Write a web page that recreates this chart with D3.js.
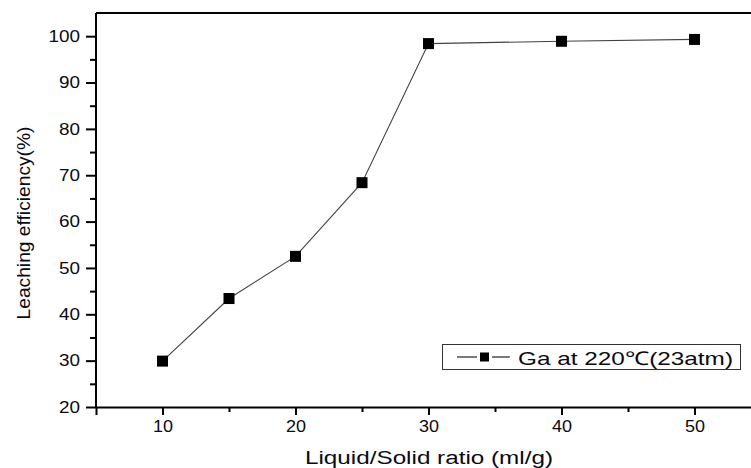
<!DOCTYPE html>
<html><head><meta charset="utf-8">
<script src="https://cdn.jsdelivr.net/npm/d3@7"></script>
<style>body{margin:0;background:#fff}svg{display:block;font-family:"Liberation Sans",Arial,sans-serif}</style>
</head><body><svg id="c" width="751" height="468"></svg>
<script>
const ratios = [10, 15, 20, 25, 30, 40, 50];
const efficiency = [29.9, 43.4, 52.5, 68.4, 98.4, 98.9, 99.3];
const xTicks = [10, 20, 30, 40, 50];
const xMinor = [15, 25, 35, 45];
const yTicks = [20, 30, 40, 50, 60, 70, 80, 90, 100];
const yMinor = [25, 35, 45, 55, 65, 75, 85, 95];
const seriesName = "Ga at 220\u2103(23atm)";
const xTitle = "Liquid/Solid ratio (ml/g)";
const yTitle = "Leaching efficiency(%)";

const svg = d3.select("#c");
const x = d3.scaleLinear().domain([5, 55]).range([96, 761]);
const y = d3.scaleLinear().domain([20, 105]).range([407, 13]);

// top frame
svg.append("line").attr("x1", 96).attr("x2", 751).attr("y1", y(105)).attr("y2", y(105))
  .attr("stroke", "#000").attr("stroke-width", 2);

// x axis
const gx = svg.append("g").attr("transform", `translate(0,${y(20)})`);
gx.call(d3.axisBottom(x).tickValues(xTicks).tickSize(8).tickPadding(6).tickFormat(d3.format("d")));
gx.append("g").call(d3.axisBottom(x).tickValues(xMinor).tickSize(5).tickFormat(""));
gx.selectAll(".domain").attr("stroke-width", 2);
gx.selectAll("g").selectAll(".domain").remove();
gx.selectAll("line").attr("stroke-width", 2);
gx.selectAll("text").attr("font-size", 16).attr("fill", "#0a0a14")
  .attr("textLength", d => String(d).length * 10).attr("lengthAdjust", "spacingAndGlyphs");

// y axis
const gy = svg.append("g").attr("transform", `translate(${x(5)},0)`);
gy.call(d3.axisLeft(y).tickValues(yTicks).tickSize(10).tickPadding(6).tickFormat(d3.format("d")));
gy.append("g").call(d3.axisLeft(y).tickValues(yMinor).tickSize(6).tickFormat(""));
gy.selectAll(".domain").attr("stroke-width", 2);
gy.selectAll("g").selectAll(".domain").remove();
gy.selectAll("line").attr("stroke-width", 2);
gy.selectAll("text").attr("font-size", 16).attr("fill", "#0a0a14")
  .attr("textLength", d => String(d).length * 10.5).attr("lengthAdjust", "spacingAndGlyphs");
gy.select(".domain").attr("d", `M0,${y(20)}V${y(105)}`);

// line
const line = d3.line().x((d, i) => x(ratios[i])).y(d => y(d));
svg.append("path").datum(efficiency).attr("d", line).attr("fill", "none")
  .attr("stroke", "#444").attr("stroke-width", 1.1);
svg.selectAll("rect.pt").data(efficiency).join("rect").attr("class", "pt")
  .attr("x", (d, i) => x(ratios[i]) - 5.5).attr("y", d => y(d) - 5.5)
  .attr("width", 11).attr("height", 11).attr("fill", "#000");

// legend
const lg = svg.append("g");
lg.append("rect").attr("x", 442.5).attr("y", 344.5).attr("width", 298).attr("height", 25)
  .attr("fill", "#fff").attr("stroke", "#333").attr("stroke-width", 1);
lg.append("line").attr("x1", 457).attr("x2", 477).attr("y1", 357).attr("y2", 357)
  .attr("stroke", "#222").attr("stroke-width", 1.2);
lg.append("line").attr("x1", 492).attr("x2", 510).attr("y1", 357).attr("y2", 357)
  .attr("stroke", "#222").attr("stroke-width", 1.2);
lg.append("rect").attr("x", 480).attr("y", 352.5).attr("width", 9).attr("height", 9).attr("fill", "#000");
lg.append("text").attr("x", 518).attr("y", 365).attr("font-size", 19).attr("fill", "#0a0a14")
  .attr("textLength", 215).attr("lengthAdjust", "spacingAndGlyphs").text(seriesName);

// titles
svg.append("text").attr("x", 429).attr("y", 464).attr("text-anchor", "middle")
  .attr("font-size", 18).attr("fill", "#0a0a14").attr("textLength", 248).attr("lengthAdjust", "spacingAndGlyphs").text(xTitle);
svg.append("text").attr("transform", "translate(30,223) rotate(-90)").attr("text-anchor", "middle")
  .attr("font-size", 19).attr("fill", "#0a0a14").attr("textLength", 193).attr("lengthAdjust", "spacingAndGlyphs").text(yTitle);
</script></body></html>
